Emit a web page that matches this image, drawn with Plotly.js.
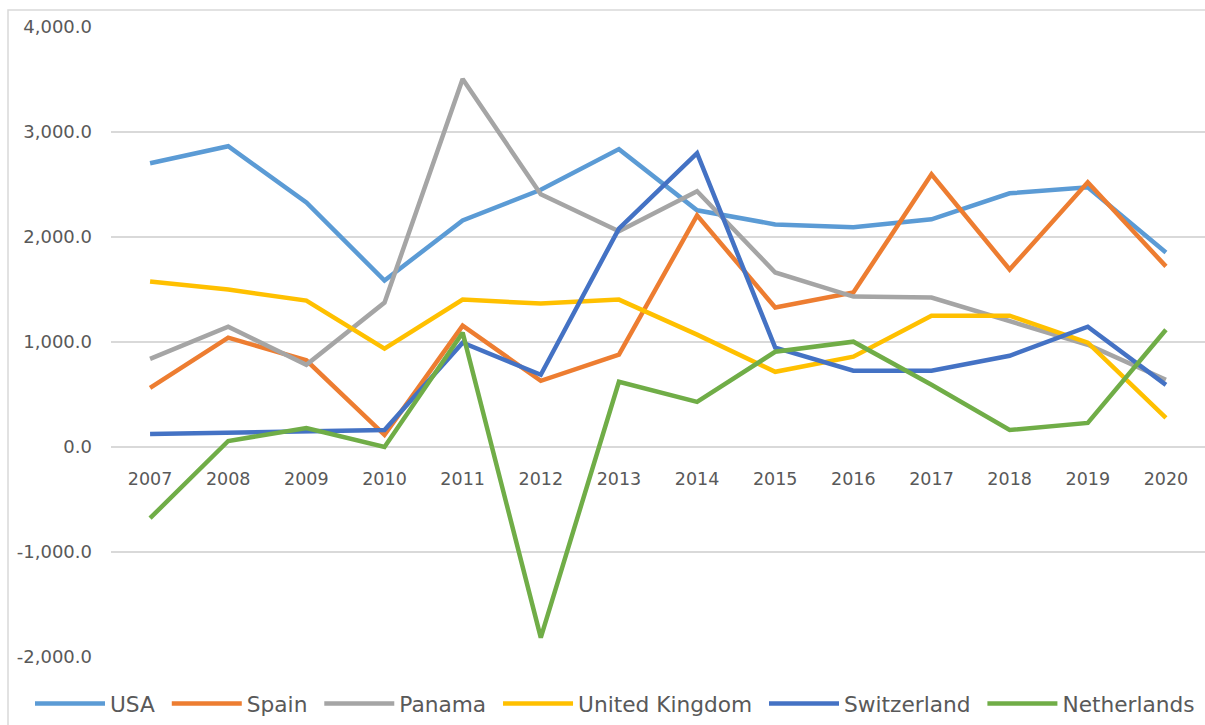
<!DOCTYPE html>
<html>
<head>
<meta charset="utf-8">
<script src="https://cdn.plot.ly/plotly-3.0.1.min.js"></script>
<style>html,body{margin:0;padding:0;background:#fff;}#chart{width:1205px;height:725px;}</style>
</head>
<body>
<div id="chart"></div>
<script>
const years = [2007,2008,2009,2010,2011,2012,2013,2014,2015,2016,2017,2018,2019,2020];
const usa         = [2703,2865,2330,1585,2158,2450,2837,2254,2120,2092,2168,2416,2473,1853];
const spain       = [563,1041,826,115,1156,630,879,2206,1328,1471,2598,1690,2521,1720];
const panama      = [840,1146,783,1375,3505,2407,2054,2436,1662,1433,1423,1194,974,640];
const unitedKingdom = [1576,1500,1394,936,1404,1366,1404,1070,716,860,1251,1251,993,277];
const switzerland = [124,134,143,162,993,688,2080,2798,946,726,726,869,1146,592];
const netherlands = [-678,57,181,0,1089,-1815,621,430,907,1003,592,162,229,1117];
const yTicks = [-2000,-1000,0,1000,2000,3000,4000];
const yTickText = yTicks.map(v => (v<0?'-':'') + Math.abs(v).toLocaleString('en-US',{minimumFractionDigits:1,maximumFractionDigits:1}));

const seriesNames = ['USA','Spain','Panama','United Kingdom','Switzerland','Netherlands'];
const seriesData = [usa, spain, panama, unitedKingdom, switzerland, netherlands];
const seriesColors = ['#5B9BD5','#ED7D31','#A5A5A5','#FFC000','#4472C4','#70AD47'];

const traces = seriesNames.map((n,i)=>({
  type:'scatter', mode:'lines',
  name: i < seriesNames.length-1 ? n + '\u00A0' : n,
  x:years, y:seriesData[i],
  line:{color:seriesColors[i], width:4.5}
}));

const W=1205, H=725, L=111, R=0, T=27, B=67;
const pw = W-L-R, ph = H-T-B;
const fontFam = '"DejaVu Sans", Arial, sans-serif';

const layout = {
  width:W, height:H,
  margin:{l:L, r:R, t:T, b:B, pad:0},
  paper_bgcolor:'#ffffff', plot_bgcolor:'#ffffff',
  showlegend:true,
  xaxis:{
    range:[2006.5, 2020.5], tickvals:years, ticktext:years.map(String),
    anchor:'free', position:(0-(-2000))/6000,
    showgrid:false, zeroline:false, showline:false, ticks:'',
    ticklabelstandoff:19,
    tickfont:{family:fontFam, size:17.5, color:'#595959'}
  },
  yaxis:{
    range:[-2000,4000], tickvals:yTicks, ticktext:yTickText,
    showgrid:true, gridcolor:'#D9D9D9', gridwidth:1.5,
    zeroline:false, showline:false, ticks:'',
    ticklabelstandoff:18,
    tickfont:{family:fontFam, size:18, color:'#595959'}
  },
  legend:{
    orientation:'h', x:(30-L)/pw, xanchor:'left', y:(H-B-705)/ph, yanchor:'middle',
    font:{family:fontFam, size:21.7, color:'#595959'},
    itemwidth:70, tracegroupgap:0, bgcolor:'rgba(0,0,0,0)'
  },
  shapes:[{
    type:'rect', xref:'paper', yref:'paper',
    x0:(8-L)/pw, x1:(W+5-L)/pw, y0:(H-B-(H+5))/ph, y1:(H-B-10)/ph,
    line:{color:'#D9D9D9', width:1.5}, fillcolor:'rgba(0,0,0,0)', layer:'below'
  }]
};

Plotly.newPlot('chart', traces, layout, {displayModeBar:false, staticPlot:true});
</script>
</body>
</html>
